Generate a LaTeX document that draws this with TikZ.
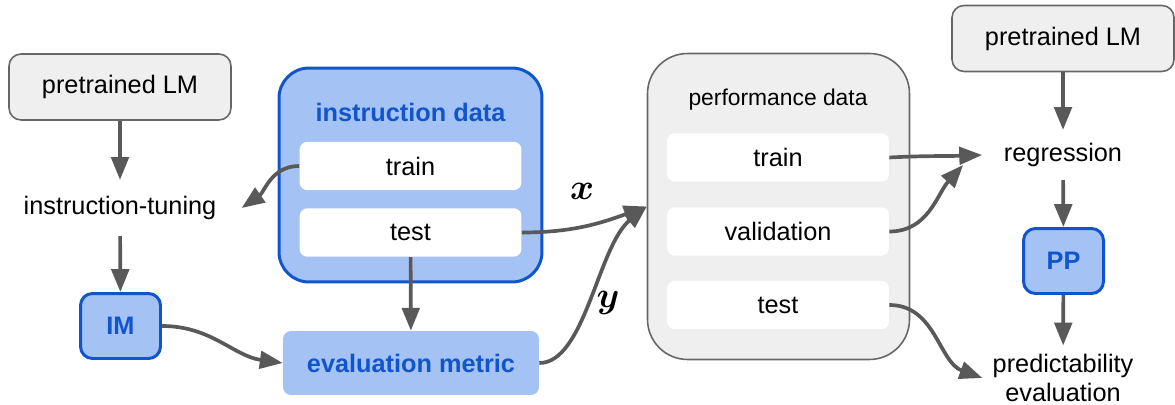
\documentclass[tikz,border=0pt]{standalone}
\usepackage{fontspec}
\setmainfont{Liberation Sans}
\usepackage{bm}
\usetikzlibrary{arrows.meta}
\definecolor{imblue}{HTML}{1155CC}
\definecolor{imfill}{HTML}{A4C2F4}
\definecolor{boxgray}{HTML}{EFEFEF}
\definecolor{edgegray}{HTML}{666666}
\definecolor{arrgray}{HTML}{595959}
\tikzset{
  lmbox/.style={draw=edgegray,fill=boxgray,line width=0.9pt,rounded corners=0.24cm,minimum width=4.44cm,minimum height=1.32cm},
  modelbox/.style={draw=imblue,fill=imfill,line width=1.7pt,rounded corners=0.24cm,minimum width=1.6cm,minimum height=1.3cm,text=imblue,font=\bfseries},
  databox/.style={rounded corners=#1,line width=1.7pt},
  splitbox/.style={fill=white,rounded corners=0.16cm,minimum width=4.44cm,minimum height=0.97cm},
  arr/.style={draw=arrgray,line width=2.1pt,-{Triangle[length=13pt,width=10pt]}},
  varlbl/.style={font=\fontsize{21}{24}\selectfont},
}
\begin{document}
\fontsize{14.4pt}{17pt}\selectfont
\begin{tikzpicture}[x=0.02cm,y=-0.02cm]
\useasboundingbox (0,0) rectangle (1175,405);
%
\node[lmbox] (lmleft) at (120,87) {pretrained LM};
\node[inner xsep=0.5cm,inner ysep=0.32cm] (itune) at (120,208) {instruction-tuning};
\node[modelbox] (im) at (120.5,326) {IM};
\draw[arr] (lmleft) -- (itune);
\draw[arr] (itune) -- (im);
%
\node[databox=0.6cm,draw=imblue,fill=imfill,minimum width=5.26cm,minimum height=4.28cm] (idata) at (410.5,175) {};
\node[text=imblue,font=\bfseries] (idtitle) at (410.5,112) {instruction data};
\node[splitbox] (itrain) at (410.5,166) {train};
\node[splitbox] (itest) at (410.5,232.5) {test};
\node[fill=imfill,rounded corners=0.16cm,minimum width=5.12cm,minimum height=1.28cm,text=imblue,font=\bfseries] (eval) at (411,363) {evaluation metric};
\draw[arr] (itest) -- (eval);
\draw[arr] (itrain.west) to[out=180,in=35] (itune.east);
\draw[arr] (im.east) to[out=0,in=172] (eval.west);
%===========================
\node[databox=0.8cm,draw=edgegray,fill=boxgray,line width=0.9pt,minimum width=5.24cm,minimum height=6.12cm] (pdata) at (778.5,206.5) {};
\node[font=\fontsize{13}{15}\selectfont] (pdtitle) at (778,100) {performance data};
\node[splitbox] (ptrain) at (778,157.5) {train};
\node[splitbox] (pvalid) at (778,231.5) {validation};
\node[splitbox] (ptest) at (778,305) {test};
\draw[arr] (itest.east) to[out=0,in=200] (pdata.west);
\draw[arr] (eval.east) .. controls (585,363) and (598,246) .. (pdata.west);
\node[varlbl] (xlbl) at (582,191) {$\bm{x}$};
\node[varlbl] (ylbl) at (608,303) {$\bm{y}$};
%================================
\node[lmbox] (lmright) at (1063,38.5) {pretrained LM};
\node[inner xsep=0.43cm,inner ysep=0.26cm] (regr) at (1063,155) {regression};
\node[modelbox] (pp) at (1063.5,261) {PP};
\node[align=center,inner xsep=0.2cm,inner ysep=0.16cm] (predev) at (1063,378) {predictability\\evaluation};
\draw[arr] (lmright) -- (regr);
\draw[arr] (regr) -- (pp);
\draw[arr] (pp) -- (predev);
\draw[arr] (ptrain.east) to[out=3,in=182] (regr.west);
\draw[arr] (pvalid.east) to[out=0,in=228] ([shift={(-0.38cm,-0.2cm)}]regr.west);
\draw[arr] (ptest.east) to[out=0,in=160] (predev.west);
\end{tikzpicture}
\end{document}
